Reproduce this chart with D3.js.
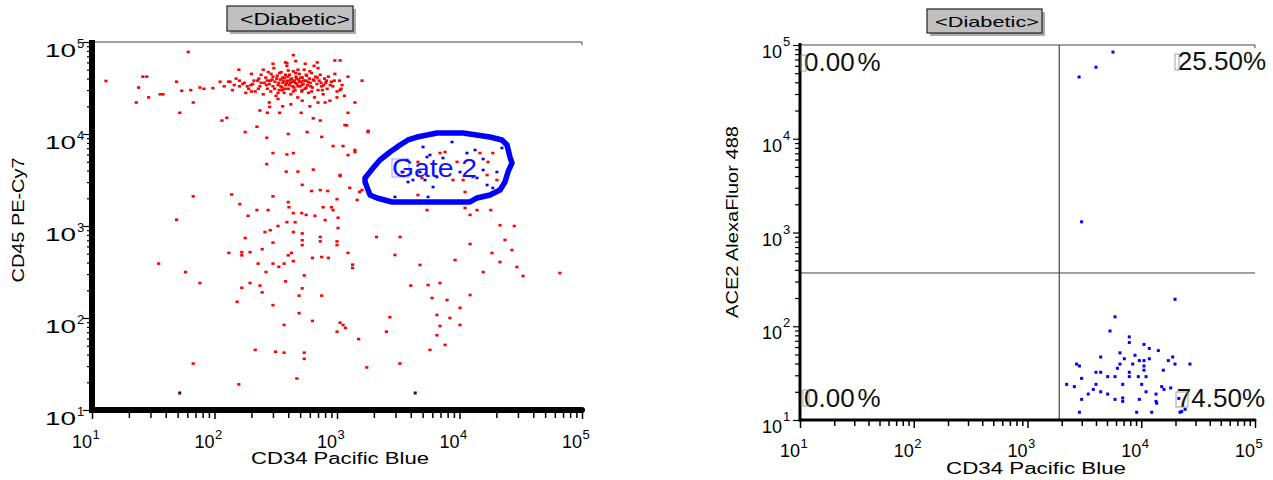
<!DOCTYPE html>
<html>
<head>
<meta charset="utf-8">
<script src="https://cdn.jsdelivr.net/npm/d3@7"></script>
<style>
  body { margin: 0; background: #fff; }
  text { font-family: "Liberation Sans", Arial, sans-serif; }
</style>
</head>
<body>
<script>
// ---- data ----
var panelTitle = "<Diabetic>";
var xTitle = "CD34 Pacific Blue";
var yTitleLeft = "CD45 PE-Cy7";
var yTitleRight = "ACE2 AlexaFluor 488";
var decades = [10, 100, 1000, 10000, 100000];
var exponents = ["1", "2", "3", "4", "5"];

// left plot, all events (CD34 vs CD45)
var redDots = [
  [13,37700],[61,78000],[23,22000],[26,42000],[28,42000],[29,25000],[24,32000],[36,27000],[38,27000],[52,17000],
  [49,37000],[54,29500],[64,30000],[67,22000],[76,32000],[82,31000],[97,31500],[111,37000],[115,14000],[126,15000],
  [134,37000],[158,50000],[178,10500],[222,12000],[267,9100],[300,6200],[390,6000],[440,6200],[400,10000],[570,10500],
  [750,9300],[930,7400],[1120,7400],[1230,5900],[1800,10800],[1400,6700],[1200,12400],[1230,17000],[1400,22000],[1600,38000],
  [1230,42000],[1060,63000],[960,63000],[690,60000],[440,72000],[390,59000],[1060,30000],[1000,25000],[800,22000],[730,14000],
  [640,14800],[510,17000],[360,20000],[340,17000],[270,17000],[235,18000],[282,19700],
  [160,33000],[175,36000],[190,31000],[205,35000],[215,29000],[225,38000],[235,33000],[240,44000],[250,27000],[255,36000],
  [262,41000],[270,31000],[275,47000],[280,35000],[288,29000],[295,39000],[300,33000],[305,52000],[312,37000],[318,26000],
  [325,43000],[330,34000],[338,30000],[345,39000],[350,47000],[356,32000],[362,36000],[370,28000],[375,41000],[382,34000],
  [390,55000],[395,38000],[402,31000],[410,44000],[415,36000],[420,27000],[428,40000],[435,33000],[440,48000],[448,38000],
  [455,30000],[462,42000],[470,35000],[478,25000],[485,39000],[492,45000],[500,33000],[508,37000],[515,29000],[522,41000],
  [530,35000],[540,50000],[548,31000],[555,38000],[565,43000],[575,34000],[585,28000],[595,40000],[605,36000],[620,46000],
  [630,32000],[640,39000],[655,25000],[670,42000],[685,35000],[700,30000],[715,38000],[730,44000],[750,33000],[770,27000],
  [790,40000],[810,36000],[830,31000],[850,42000],[875,23000],[900,37000],[925,33000],[960,45000],[1000,29000],[1050,38000],
  [1100,34000],[1150,26000],[280,22000],[330,24000],[420,21000],[520,23000],[600,20000],[700,22000],[380,60000],[460,62000],
  [550,58000],[650,55000],[300,58000],[250,50000],[200,45000],[180,28000],[150,40000],[130,37000],[120,33000],[140,30000],
  [265,34000],[285,38000],[310,31000],[322,40000],[335,36000],[348,33000],[358,41000],[368,38000],[378,31000],[388,36000],
  [398,42000],[408,34000],[418,39000],[432,37000],[445,32000],[458,36000],[468,40000],[480,33000],[495,37000],[505,41000],
  [518,34000],[535,38000],[560,32000],[580,37000],[610,33000],[650,38000],[690,41000],[740,36000],[780,34000],[820,38000],
  [240,36000],[228,31000],[210,38000],[198,34000],[185,33000],[170,35000],[290,45000],[340,46000],[400,49000],[480,50000],
  [600,48000],[700,52000],[360,30000],[440,29000],[520,30000],[330,28000],[270,38000],[300,42000],[380,44000],[460,46000],
  [560,44000],[620,29000],[760,30000],[880,34000],[950,38000],[1080,31000],[230,40000],[200,29000],[160,38000],[145,34000],
  [267,4700],[385,3900],[480,3900],[640,4100],[1060,3500],[1270,2600],[1530,2350],[1000,1960],[730,2460],[840,2400],
  [620,2400],[520,2800],[300,2100],[138,2200],[67,2100],[161,1730],[188,1290],[222,1490],[274,1490],[400,1820],
  [405,1600],[440,1380],[515,1380],[560,1320],[660,1290],[770,1600],[900,1600],[930,1490],[1020,1230],[800,1160],
  [390,1100],[455,1100],[330,1000],[285,900],[258,860],[440,860],[520,830],[730,760],[1020,950],[2100,760],
  [49,1170],[178,740],[520,700],[520,620],[730,680],[1000,680],[1000,620],[131,510],[167,520],[167,480],
  [195,520],[245,560],[300,660],[400,480],[425,510],[440,415],[630,450],[750,460],[850,450],[1230,510],
  [1340,380],[1340,350],[35,390],[58,316],[76,240],[227,390],[300,390],[335,360],[370,390],[263,316],
  [540,290],[380,250],[195,240],[235,225],[167,213],[520,210],[245,190],[490,175],[750,175],[153,150],
  [300,138],[490,113],[630,93],[370,84],[1060,89],[1120,84],[1170,78],[1000,71],[1500,59],[2530,71],
  [2700,102],[4000,225],[215,45],[315,43],[370,42],[540,42],[540,36],[67,32],[470,22],[158,19],
  [1750,29],[3260,32],
  [23500,705],[26800,548],[21400,406],[29400,358],[33000,286],[66000,308],[12200,637],[9190,427],[18400,509],[15600,316],
  [6930,240],[5540,228],[4760,377],[5970,165],[7910,157],[6540,108],[8350,100],[6930,82],[10100,84],[6540,65],
  [7620,51],[5740,45],[10100,129],[12200,178],[3270,760],[2970,484],[4580,2170],[12200,1320],[18000,1490],[21400,1020],
  [28000,1000],
  [7620,6370],[6930,6210],[14700,6210],[17100,4970],[18700,6210],[9550,4970],[4580,4970],[12900,3410],[16800,3580],[20200,3160],
  [4940,3330],[10700,3160],[8850,3160],[3460,3860],[5430,1490],[11100,1570],[13900,1490],[1790,10500],[1400,6370],[1160,12500],
  [1460,1920],[1600,2460],[1060,3580],[11100,2340]
];
var darkDots = [[52,15.3],[4350,15.3]];
// events inside Gate 2
var gateDots = [
  [5040,7230],[5430,5620],[5740,5920],[7330,5480],[11500,6210],[13400,6700],[15600,5350],[20200,3860],[22200,7050],[3800,3010],
  [4170,3160],[6080,2650],[5540,2070],[2970,2070],[3720,5210],[3400,3860],[8690,8180],[15600,4060],[18700,2590],[16800,2790],
  [6540,3410],[5230,3160],[10100,3860],[13900,3330],[4760,3860]
];
var gateName = "Gate 2";
var gateX = [1694,1860,2122,2812,12190,13900,17740,21420,23500,24890,26840,25830,24430,22230,17740,10680,6550,4500,3800,3270,2710,2240,1970,1694];
var gateY = [3008,2173,2016,1824,1824,2016,2173,2462,3008,3864,4840,5620,7590,8610,9270,10250,10250,9270,8610,7590,6370,5220,4270,3325];

// right plot, Gate 2 events (CD34 vs ACE2)
var blueDots = [
  [5640,84000],[4000,58000],[2840,45600],[2990,1300],
  [19800,194],[5880,126],[5310,89],[7850,77],[7850,67],[10570,64],[11770,58],[14130,55],[6500,52],[8810,49],
  [4400,47],[7100,45],[11770,45],[9620,43],[10570,43],[17300,43],[18900,47],[2700,39.5],[2860,37.7],[6500,39.5],
  [8410,39.5],[19800,39.5],[26800,39.5],[6170,35.6],[10570,37.7],[10570,34],[4000,32.3],[4400,32.3],[7850,32.3],[15630,34],
  [5070,29],[5880,29],[7850,29],[9420,29],[11020,29],[2990,27.8],[4000,24],[2210,24],[2580,22.7],[6870,24],
  [10090,24],[15130,22.7],[15850,21.2],[18150,22],[3790,21.2],[3420,18.9],[4400,20],[5070,18.9],[11020,20],[13490,18.9],
  [2990,16.6],[5880,16.6],[6870,17.2],[6870,15.8],[9620,16.6],[13490,15.8],[2860,12.1],[9120,12.1],[12360,12.1],[21900,12.1],
  [24280,13],[13680,15.1],[22650,12.3],[21400,17]
];
var quadX = 1900;
var quadY = 370;
var quadLabels = ["0.00%", "25.50%", "0.00%", "74.50%"]; // UL, UR, LL, LR

var W = 1273, H = 480;
var svg = d3.select("body").append("svg").attr("width", W).attr("height", H);

var minorTicks = [];
decades.slice(0, 4).forEach(function(d) {
  for (var m = 2; m < 10; m++) minorTicks.push(d * m);
});

var xL = d3.scaleLog().domain([10, 1e5]).range([92, 582]);
var yL = d3.scaleLog().domain([10, 1e5]).range([410, 42]);
var xR = d3.scaleLog().domain([10, 1e5]).range([800, 1255]);
var yR = d3.scaleLog().domain([10, 1e5]).range([420, 45]);

function titleBox(x, y, w, h, fs, tl, tx, ty) {
  svg.append("rect").attr("x", x + 3).attr("y", y + 3).attr("width", w).attr("height", h).attr("fill", "#aaa");
  svg.append("rect").attr("x", x).attr("y", y).attr("width", w).attr("height", h)
    .attr("fill", "#c0c0c0").attr("stroke", "#222").attr("stroke-width", 1.2);
  svg.append("text").attr("x", tx).attr("y", ty).attr("font-size", fs)
    .attr("textLength", tl).attr("lengthAdjust", "spacingAndGlyphs").text(panelTitle);
}

function axes(x, y, o) {
  var x0 = x.range()[0], y0 = y.range()[0];
  // y ticks
  svg.append("g").attr("transform", "translate(" + x0 + ",0)")
    .call(d3.axisLeft(y).tickValues(minorTicks).tickSize(o.minor).tickSizeOuter(0).tickFormat(""))
    .call(function(g) { g.select(".domain").remove(); g.selectAll("line").attr("stroke", "#000").attr("stroke-width", 1.2); });
  svg.append("g").attr("transform", "translate(" + x0 + ",0)")
    .call(d3.axisLeft(y).tickValues(decades).tickSize(o.major).tickSizeOuter(0).tickFormat(""))
    .call(function(g) { g.select(".domain").remove(); g.selectAll("line").attr("stroke", "#000").attr("stroke-width", 1.2); });
  // x ticks
  svg.append("g").attr("transform", "translate(0," + y0 + ")")
    .call(d3.axisBottom(x).tickValues(minorTicks).tickSize(o.xminor).tickSizeOuter(0).tickFormat(""))
    .call(function(g) { g.select(".domain").remove(); g.selectAll("line").attr("stroke", "#000").attr("stroke-width", 1.5); });
  svg.append("g").attr("transform", "translate(0," + y0 + ")")
    .call(d3.axisBottom(x).tickValues(decades).tickSize(o.xmajor).tickSizeOuter(0).tickFormat(""))
    .call(function(g) { g.select(".domain").remove(); g.selectAll("line").attr("stroke", "#000").attr("stroke-width", 1.5); });

  // frame: thin top border, heavy left/bottom axis lines
  svg.append("line").attr("x1", x0).attr("x2", x.range()[1]).attr("y1", y.range()[1]).attr("y2", y.range()[1])
    .attr("stroke", "#444").attr("stroke-width", 1);
  svg.append("line").attr("x1", x.range()[1]).attr("x2", x.range()[1]).attr("y1", y.range()[1]).attr("y2", y.range()[1] + 3)
    .attr("stroke", "#444").attr("stroke-width", 1);
  svg.append("line").attr("x1", x0).attr("x2", x0).attr("y1", y.range()[1] - 2).attr("y2", y0 + o.w / 2)
    .attr("stroke", "#000").attr("stroke-width", o.w);
  svg.append("line").attr("x1", x0).attr("x2", x.range()[1]).attr("y1", y0).attr("y2", y0)
    .attr("stroke", "#000").attr("stroke-width", o.w).attr("stroke-linecap", "round");

  // tick labels "10" + superscript
  decades.forEach(function(d, i) {
    var ty = y(d);
    var t = svg.append("text").attr("y", ty + o.yBase).attr("font-size", 18).text("10");
    if (o.yTL) t.attr("x", o.yTextX).attr("textLength", o.yTL).attr("lengthAdjust", "spacingAndGlyphs");
    else t.attr("x", o.yTextX).attr("text-anchor", "end");
    svg.append("text").attr("x", o.yExpX).attr("y", ty + o.yExpBase).attr("font-size", 13).text(exponents[i]);

    var tx = x(d);
    svg.append("text").attr("x", tx).attr("y", o.xBase).attr("text-anchor", "end").attr("font-size", 18).text("10");
    svg.append("text").attr("x", tx + 0.5).attr("y", o.xBase - 9).attr("font-size", 13).text(exponents[i]);
  });
}

function dots(data, x, y, color, w, h) {
  svg.append("g").selectAll("rect").data(data).enter().append("rect")
    .attr("x", function(d) { return x(d[0]) - w / 2; })
    .attr("y", function(d) { return y(d[1]) - h / 2; })
    .attr("width", w).attr("height", h)
    .attr("fill", color);
}

// ---------- left panel ----------
titleBox(227, 6, 126, 25, 16, 110, 240, 25);
dots(redDots, xL, yL, "#ff0000", 3.2, 2.6);
dots(darkDots, xL, yL, "#550000", 3, 3);
dots(gateDots, xL, yL, "#0000ff", 3, 2.6);

var gatePts = gateX.map(function(v, i) { return [v, gateY[i]]; });
svg.append("path")
  .attr("d", d3.line().x(function(d) { return xL(d[0]); }).y(function(d) { return yL(d[1]); }).curve(d3.curveLinearClosed)(gatePts))
  .attr("fill", "none").attr("stroke", "#0000ff").attr("stroke-width", 5.5).attr("stroke-linejoin", "round");
svg.append("rect").attr("x", 392).attr("y", 159).attr("width", 17).attr("height", 18)
  .attr("fill", "none").attr("stroke", "#8a8aff").attr("stroke-width", 0.8);
svg.append("text").attr("x", 392).attr("y", 177).attr("font-size", 25).attr("fill", "#1010ff")
  .attr("textLength", 85).attr("lengthAdjust", "spacingAndGlyphs").text(gateName);

axes(xL, yL, { w: 6, minor: 5, major: 9, xminor: 8, xmajor: 9,
  yTextX: 45, yTL: 31, yBase: 14.5, yExpX: 77, yExpBase: 6, xBase: 448 });

svg.append("text").attr("x", 340).attr("y", 464).attr("text-anchor", "middle").attr("font-size", 16)
  .attr("textLength", 178).attr("lengthAdjust", "spacingAndGlyphs").text(xTitle);
svg.append("text").attr("transform", "translate(24,220) rotate(-90)").attr("text-anchor", "middle").attr("font-size", 16)
  .attr("textLength", 125).attr("lengthAdjust", "spacingAndGlyphs").text(yTitleLeft);

// ---------- right panel ----------
titleBox(927, 9, 115, 24, 15, 104, 935, 27);

svg.append("line").attr("x1", xR(quadX)).attr("x2", xR(quadX)).attr("y1", yR.range()[1]).attr("y2", yR.range()[0])
  .attr("stroke", "#222").attr("stroke-width", 1);
svg.append("line").attr("x1", xR.range()[0]).attr("x2", xR.range()[1]).attr("y1", yR(quadY)).attr("y2", yR(quadY))
  .attr("stroke", "#444").attr("stroke-width", 1);

dots(blueDots, xR, yR, "#0000ff", 3, 3);

axes(xR, yR, { w: 3, minor: 5, major: 7, xminor: 6, xmajor: 8,
  yTextX: 782, yTL: 0, yBase: 13, yExpX: 783, yExpBase: 1, xBase: 457 });

svg.append("text").attr("x", 1036).attr("y", 474).attr("text-anchor", "middle").attr("font-size", 16)
  .attr("textLength", 180).attr("lengthAdjust", "spacingAndGlyphs").text(xTitle);
svg.append("text").attr("transform", "translate(738,222) rotate(-90)").attr("text-anchor", "middle").attr("font-size", 16)
  .attr("textLength", 192).attr("lengthAdjust", "spacingAndGlyphs").text(yTitleRight);

// quadrant percentages
var qPos = [[804, 71, "start"], [1266, 70, "end"], [804, 407, "start"], [1265, 407, "end"]];
quadLabels.forEach(function(s, i) {
  var t = svg.append("text").attr("x", qPos[i][0]).attr("y", qPos[i][1])
    .attr("text-anchor", qPos[i][2]).attr("font-size", 26).attr("fill", "#111");
  if (qPos[i][2] === "start") {
    t.append("tspan").text(s.slice(0, -1));
    t.append("tspan").attr("dx", 3).text("%");
  } else {
    t.text(s);
  }
});
// small selection boxes left by the software
[[801, 55, 5, 16], [803, 390, 6, 16], [1176, 392, 12, 15], [1175, 54, 4, 16]].forEach(function(b) {
  svg.append("rect").attr("x", b[0]).attr("y", b[1]).attr("width", b[2]).attr("height", b[3])
    .attr("fill", "none").attr("stroke", "#888").attr("stroke-width", 0.8);
});
</script>
</body>
</html>
